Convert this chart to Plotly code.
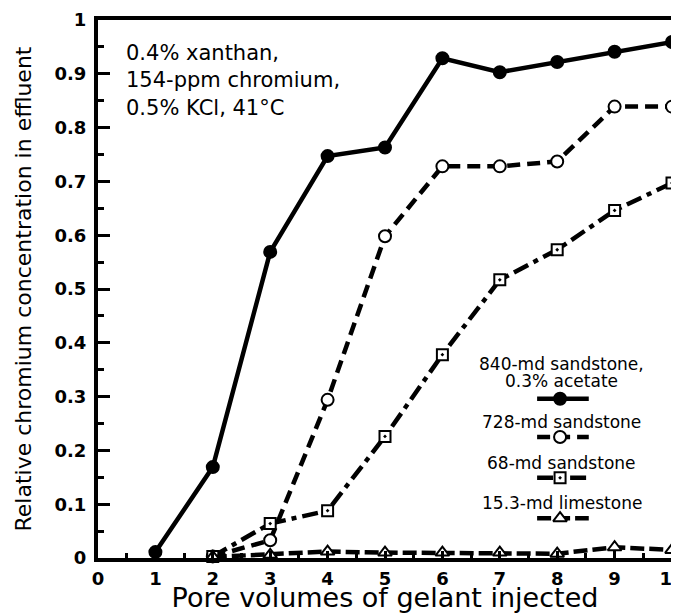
import plotly.graph_objects as go

# ---- data ----
pv_840 = [1, 2, 3, 4, 5, 6, 7, 8, 9, 10]
cr_840 = [0.011, 0.169, 0.569, 0.747, 0.763, 0.929, 0.903, 0.922, 0.941, 0.959]

pv_728 = [2, 3, 4, 5, 6, 7, 8, 9, 10]
cr_728 = [0.003, 0.033, 0.294, 0.598, 0.728, 0.728, 0.737, 0.839, 0.839]

pv_68 = [2, 3, 4, 5, 6, 7, 8, 9, 10]
cr_68 = [0.003, 0.064, 0.088, 0.226, 0.378, 0.517, 0.573, 0.646, 0.697]

pv_153 = [2, 3, 4, 5, 6, 7, 8, 9, 10]
cr_153 = [0.002, 0.006, 0.012, 0.010, 0.010, 0.010, 0.008, 0.020, 0.015]

series_names = ["840-md sandstone,<br>0.3% acetate", "728-md sandstone",
                "68-md sandstone", "15.3-md limestone"]

x_ticks = list(range(0, 11))
y_ticks = [0, 0.1, 0.2, 0.3, 0.4, 0.5, 0.6, 0.7, 0.8, 0.9, 1]
y_tick_text = ["0", "0.1", "0.2", "0.3", "0.4", "0.5", "0.6", "0.7", "0.8", "0.9", "1"]

FONT = "DejaVu Sans"
BLK = "black"

fig = go.Figure()

styles = [
    dict(dash="solid", symbol="circle", fill=BLK, size=12),
    dict(dash="13px,7px", symbol="circle", fill="white", size=12),
    dict(dash="16px,6px,5px,6px", symbol="square-dot", fill="white", size=11),
    dict(dash="14px,5px", symbol="triangle-up", fill="white", size=12),
]
data = [(pv_840, cr_840), (pv_728, cr_728), (pv_68, cr_68), (pv_153, cr_153)]

for (xs, ys), st, nm in zip(data, styles, series_names):
    fig.add_trace(go.Scatter(
        x=xs, y=ys, mode="lines+markers", name=nm, cliponaxis=False,
        line=dict(color=BLK, width=4.5, dash=st["dash"]),
        marker=dict(symbol=st["symbol"], size=st["size"], color=st["fill"],
                    line=dict(color=BLK, width=2)),
        showlegend=False,
    ))

# ---- hand-made legend (text above sample line) on an overlay axis ----
leg_text_y = [[0.361, 0.329], [0.253], [0.177], [0.102]]
leg_sample_y = [0.296, 0.225, 0.149, 0.074]
leg_lines = [series_names[0].split("<br>"), [series_names[1]], [series_names[2]], [series_names[3]]]
for st, lines, tys, sy in zip(styles, leg_lines, leg_text_y, leg_sample_y):
    fig.add_trace(go.Scatter(
        x=[0.765, 0.805, 0.855], y=[sy, sy, sy], xaxis="x2", yaxis="y2",
        mode="lines", line=dict(color=BLK, width=4.5, dash=st["dash"]),
        showlegend=False, hoverinfo="skip"))
    fig.add_trace(go.Scatter(
        x=[0.805], y=[sy], xaxis="x2", yaxis="y2", mode="markers",
        marker=dict(symbol=st["symbol"], size=st["size"], color=st["fill"],
                    line=dict(color=BLK, width=2)),
        showlegend=False, hoverinfo="skip"))
    for t, ty in zip(lines, tys):
        fig.add_annotation(x=0.808, y=ty, xref="x2", yref="y2", text=t, showarrow=False,
                           xanchor="center", yanchor="middle",
                           font=dict(family=FONT, size=17, color=BLK))

fig.add_annotation(x=0.045, y=0.965, xref="paper", yref="paper",
                   text="0.4% xanthan,<br>154-ppm chromium,<br>0.5% KCl, 41°C",
                   showarrow=False, xanchor="left", yanchor="top", align="left",
                   font=dict(family=FONT, size=21, color=BLK))

tickfont = dict(family=FONT, size=18, color=BLK, weight="bold")

# page body has an 8px margin, so the figure is sized/offset to compensate
fig.update_layout(
    width=671, height=605,
    margin=dict(l=90, r=7, t=12, b=55),
    paper_bgcolor="white", plot_bgcolor="white",
    font=dict(family=FONT, color=BLK),
    xaxis=dict(range=[0, 10], tickvals=x_ticks, ticktext=[str(v) for v in x_ticks],
               automargin=False, ticklabeloverflow="allow",
               showgrid=False, zeroline=False, showline=True, linewidth=4,
               linecolor=BLK, mirror=True, ticks="inside", ticklen=7, tickwidth=3,
               tickcolor=BLK, tickfont=tickfont, ticklabelstandoff=1,
               minor=dict(dtick=0.5, ticks="inside", ticklen=5, tickwidth=3, tickcolor=BLK),
               title=dict(text="Pore volumes of gelant injected", standoff=3,
                          font=dict(family=FONT, size=27, color=BLK))),
    yaxis=dict(range=[0, 1], tickvals=y_ticks, ticktext=y_tick_text,
               automargin=False,
               showgrid=False, zeroline=False, showline=True, linewidth=4,
               linecolor=BLK, mirror=True, ticks="inside", ticklen=12, tickwidth=3,
               tickcolor=BLK, tickfont=tickfont, ticklabelstandoff=4,
               minor=dict(dtick=0.05, ticks="inside", ticklen=6, tickwidth=3, tickcolor=BLK),
               title=dict(text="Relative chromium concentration in effluent", standoff=18,
                          font=dict(family=FONT, size=22, color=BLK))),
    xaxis2=dict(range=[0, 1], overlaying="x", visible=False),
    yaxis2=dict(range=[0, 1], overlaying="y", visible=False),
)

fig.write_html("out.html")
